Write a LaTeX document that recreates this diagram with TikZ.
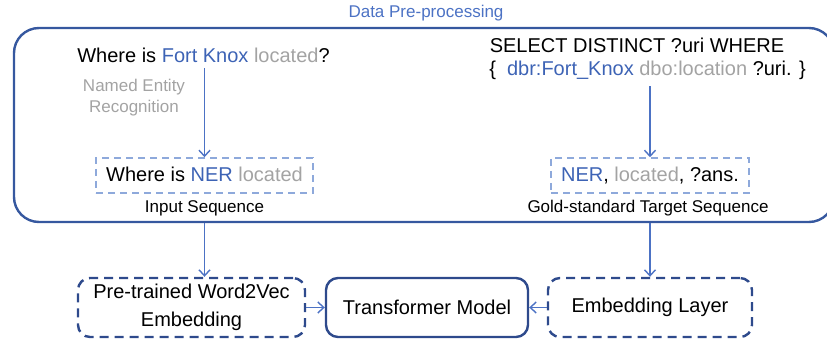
\documentclass[tikz,border=0pt]{standalone}
\usepackage{fontspec}
\setmainfont{Liberation Sans}
\usetikzlibrary{arrows.meta}

\definecolor{framecol}{HTML}{36589F}
\definecolor{boxcol}{HTML}{2E4A8C}
\definecolor{arrcol}{HTML}{4C72C4}
\definecolor{bluetxt}{HTML}{3D63B5}
\definecolor{graytxt}{HTML}{A3A3A3}
\definecolor{lightbox}{HTML}{8EA9DB}

\newcommand{\maintext}{\fontsize{20}{24}\selectfont}
\newcommand{\smalltext}{\fontsize{17}{20}\selectfont}

\tikzset{
  txt/.style={inner sep=0pt, anchor=base, font=\maintext},
  smalltxt/.style={inner sep=0pt, anchor=base, font=\smalltext},
  seqbox/.style={draw=lightbox, line width=1.5pt, dash pattern=on 7pt off 5pt,
    inner sep=0pt},
  modelbox/.style={draw=boxcol, line width=2.4pt, rounded corners=12pt,
    inner sep=0pt, align=center, font=\maintext},
  dashedmodel/.style={modelbox, dash pattern=on 9pt off 6pt},
  arr/.style={draw=arrcol, line width=1.4pt,
    -{Straight Barb[length=6pt,width=11pt,line width=1.4pt]}}
}

\begin{document}
\begin{tikzpicture}[x=1pt, y=-1pt]
  \useasboundingbox (0,0) rectangle (827,339);
  \begin{scope}
  \clip (0,0) rectangle (827,339);

  % title and pre-processing frame
  \node[smalltxt, text=arrcol] (title) at (426,18) {Data Pre-processing};
  \node[draw=framecol, line width=2.4pt, rounded corners=25pt, inner sep=0pt,
        minimum width=820pt, minimum height=194pt] (frame) at (424,125) {};

  % question side
  \node[txt] (q) at (203.5,63) {Where is \textcolor{bluetxt}{Fort Knox} \textcolor{graytxt}{located}?};
  \node[smalltxt, text=graytxt, align=center, anchor=base] (nerlbl) at (134,113)
        {Named Entity\\[1pt]Recognition};
  \node[seqbox, minimum width=217pt, minimum height=35pt] (inbox) at (204.5,175.5) {};
  \node[txt] (intext) at (204.5,182) {Where is \textcolor{bluetxt}{NER} \textcolor{graytxt}{located}};
  \node[smalltxt] (inlbl) at (204.5,213) {Input Sequence};

  % query side
  \node[txt] (sel) at (637,53) {SELECT DISTINCT ?uri WHERE};
  \node[txt] (sel2) at (647.5,76) {\{\ \ \textcolor{bluetxt}{dbr:Fort\_Knox} \textcolor{graytxt}{dbo:location} ?uri. \}};
  \node[seqbox, minimum width=198pt, minimum height=35pt] (tgbox) at (650,175.5) {};
  \node[txt] (tgtext) at (650,182) {\textcolor{bluetxt}{NER}, \textcolor{graytxt}{located}, ?ans.};
  \node[smalltxt] (tglbl) at (648,213) {Gold-standard Target Sequence};

  % model blocks
  \node[dashedmodel, minimum width=227pt, minimum height=59pt] (w2v) at (191.5,307.5)
        {Pre-trained Word2Vec\\[4pt]Embedding};
  \node[modelbox, minimum width=202pt, minimum height=59pt] (tf) at (427,307.5)
        {Transformer Model};
  \node[dashedmodel, minimum width=204pt, minimum height=59pt] (emb) at (650,307.5)
        {Embedding Layer};

  % connectors
  \draw[arr] (inbox.north |- q.south) ++(0,5) -- (inbox.north);
  \draw[arr] (tgbox.north |- sel2.south) ++(0,6) -- (tgbox.north);
  \draw[arr] (frame.south -| inbox.north) -- (w2v.north -| inbox.north);
  \draw[arr] (frame.south -| tgbox.north) -- (emb.north);
  \draw[arr] (w2v.east) -- (tf.west);
  \draw[arr] (emb.west) -- (tf.east);
  \end{scope}
\end{tikzpicture}
\end{document}
